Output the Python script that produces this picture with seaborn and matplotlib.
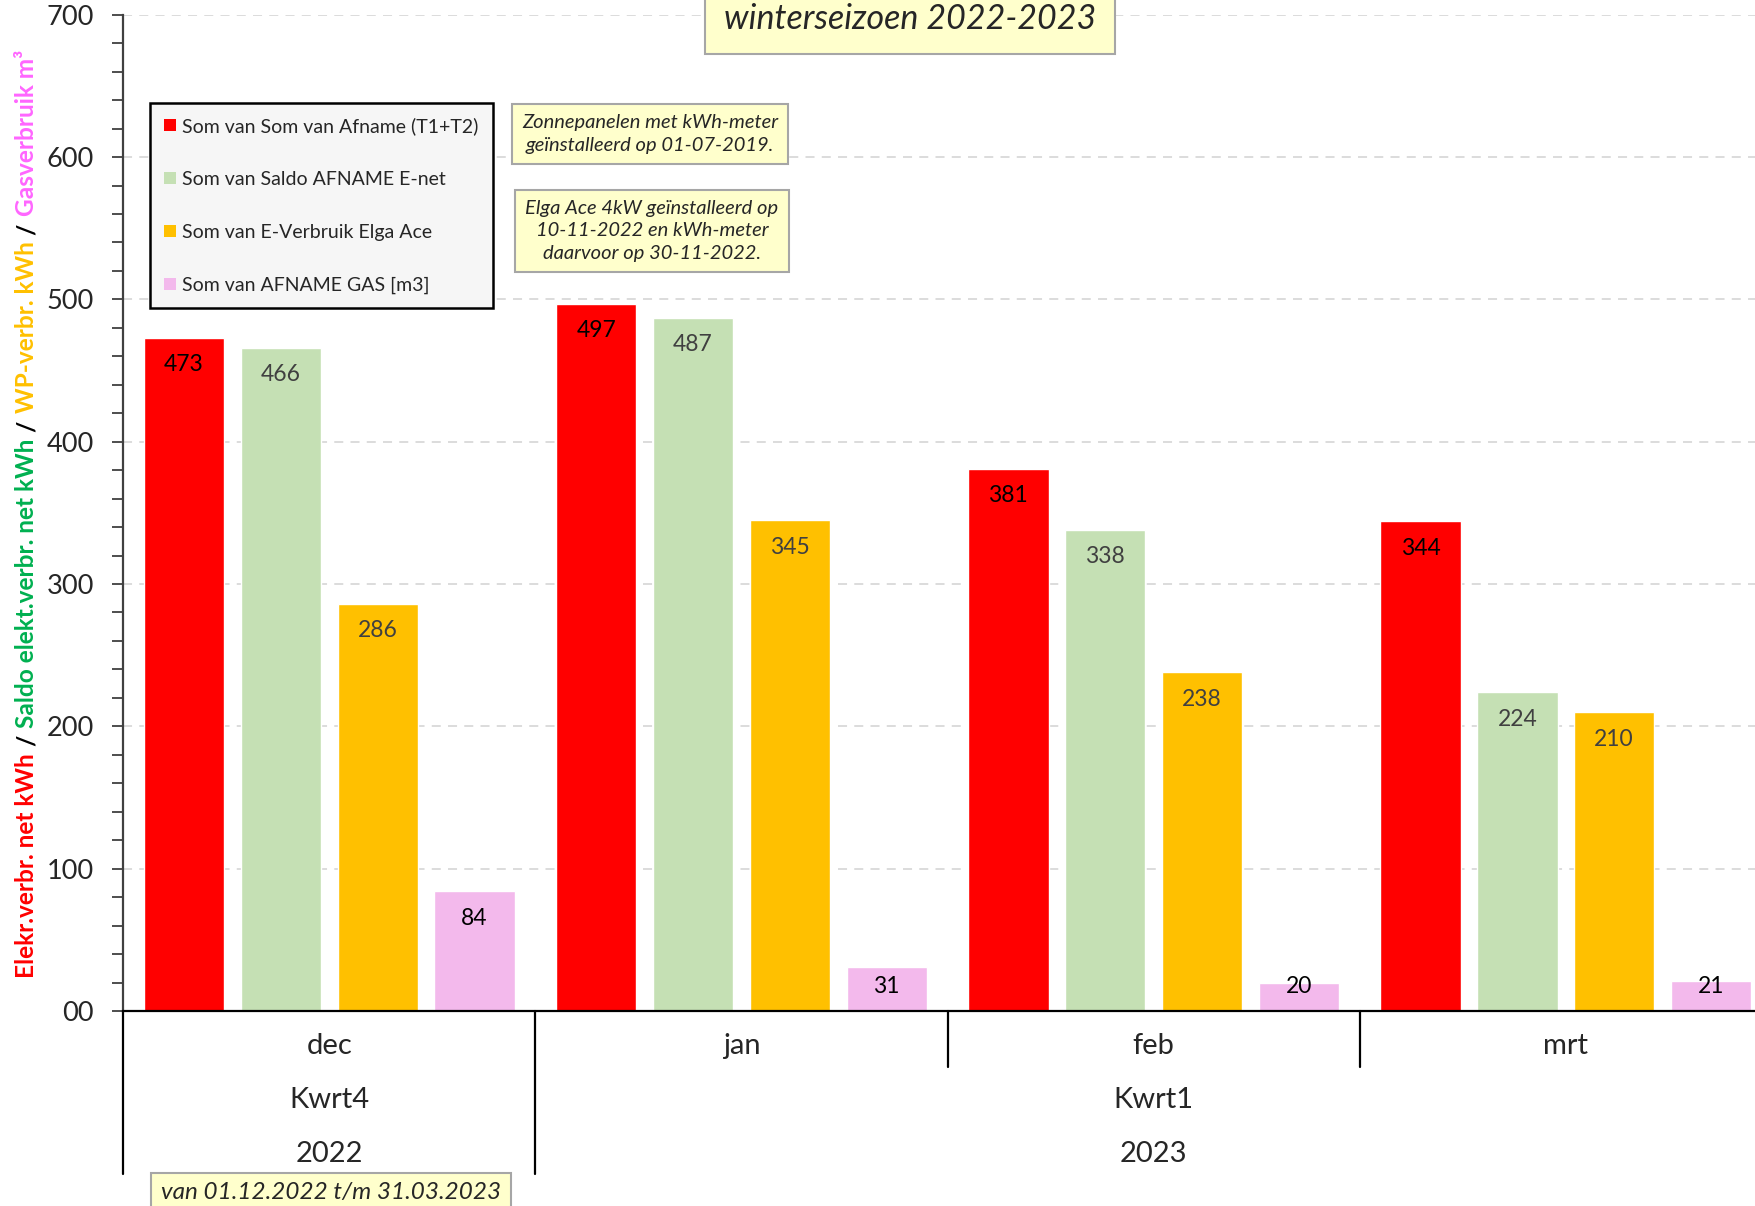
import numpy as np
import pandas as pd
import matplotlib
matplotlib.use("Agg")
import matplotlib.pyplot as plt
import matplotlib.transforms as mtrans
import seaborn as sns
from matplotlib.patches import Patch
from matplotlib.ticker import MultipleLocator, FuncFormatter

# data
months = ["dec", "jan", "feb", "mrt"]
quarters = ["Kwrt4", "Kwrt1"]
years = ["2022", "2023"]
series = ["Som van Som van Afname (T1+T2)", "Som van Saldo AFNAME E-net",
          "Som van E-Verbruik Elga Ace", "Som van AFNAME GAS [m3]"]
afname = [473, 497, 381, 344]
saldo = [466, 487, 338, 224]
elga = [286, 345, 238, 210]
gas = [84, 31, 20, 21]

colors = ["#ff0000", "#c5e0b4", "#ffc000", "#f3b9ec"]
label_colors = ["black", "#404040", "#404040", "black"]

df = pd.DataFrame({
    "maand": months * 4,
    "reeks": np.repeat(series, 4),
    "waarde": afname + saldo + elga + gas,
})

sns.set_style("white")
plt.rcParams["font.family"] = ["Lato", "DejaVu Sans"]

fig = plt.figure(figsize=(17.56, 12.06), dpi=100)
ax = fig.add_axes([0.0702, 0.1617, 0.9388, 0.8261])

sns.barplot(data=df, x="maand", y="waarde", hue="reeks", order=months,
            hue_order=series, palette=colors, width=0.94, gap=0.17,
            saturation=1, legend=False, ax=ax, zorder=2)

ax.set_xlim(-0.5, 3.5)
ax.set_ylim(0, 700)
ax.set_xlabel("")
ax.set_ylabel("")
ax.set_xticks([])
ax.yaxis.set_major_locator(MultipleLocator(100))
ax.yaxis.set_minor_locator(MultipleLocator(20))
ax.yaxis.set_major_formatter(FuncFormatter(lambda v, p: f"{int(v):02d}"))
ax.tick_params(axis="y", which="both", left=True, direction="out",
               length=8, width=1.3, color="#404040")
ax.tick_params(axis="y", which="major", labelsize=19.5, pad=13)
ax.yaxis.grid(True, linestyle=(0, (5, 4)), color="#d9d9d9", lw=1.3)
ax.set_axisbelow(True)
for s in ["top", "right"]:
    ax.spines[s].set_visible(False)
ax.spines["left"].set_color("#404040")
ax.spines["left"].set_linewidth(1.6)
ax.spines["bottom"].set_color("black")
ax.spines["bottom"].set_linewidth(1.6)

# value labels inside the top of the bars
for cont, lc in zip(ax.containers, label_colors):
    for bar in cont:
        h = bar.get_height()
        ax.text(bar.get_x() + bar.get_width() / 2, max(h - 19, 17), f"{h:.0f}",
                ha="center", va="center", fontsize=16.5, color=lc, zorder=3)

# multi-level category axis
tr = mtrans.blended_transform_factory(ax.transData, ax.transAxes)
for i, m in enumerate(months):
    ax.text(i, -0.035, m, transform=tr, ha="center", va="center", fontsize=21)
ax.text(0, -0.0894, quarters[0], transform=tr, ha="center", va="center", fontsize=21)
ax.text(2, -0.0894, quarters[1], transform=tr, ha="center", va="center", fontsize=21)
ax.text(0, -0.1436, years[0], transform=tr, ha="center", va="center", fontsize=21)
ax.text(2, -0.1436, years[1], transform=tr, ha="center", va="center", fontsize=21)
for x in [-0.5, 0.5]:
    ax.plot([x, x], [0, -0.1637], transform=tr, color="black", lw=1.6, clip_on=False)
for x in [1.5, 2.5]:
    ax.plot([x, x], [0, -0.0562], transform=tr, color="black", lw=1.6, clip_on=False)

# legend
handles = [Patch(facecolor=c, edgecolor="none") for c in colors]
leg = ax.legend(handles, series, loc="upper left",
                bbox_to_anchor=(150 / 1756, 1 - 103 / 1206),
                bbox_transform=fig.transFigure, borderaxespad=0,
                fontsize=14, handlelength=0.6, handleheight=0.6,
                handletextpad=0.35, labelspacing=1.85, borderpad=0.72,
                frameon=True, fancybox=False, framealpha=1)
leg.get_frame().set_facecolor("#f6f6f6")
leg.get_frame().set_edgecolor("black")
leg.get_frame().set_linewidth(1.8)

# coloured y-axis title
pieces = [("Elekr.verbr. net kWh", "#ff0000"), ("/", "black"),
          ("Saldo elekt.verbr. net kWh", "#00b050"), ("/", "black"),
          ("WP-verbr. kWh", "#ffc000"), ("/", "black"),
          ("Gasverbruik m³", "#ff66ff")]
prev = fig.text(27 / 1756, 1 - 978 / 1206, pieces[0][0], rotation=90,
                color=pieces[0][1], fontsize=17.6, fontweight="bold",
                ha="center", va="bottom")
for s, c in pieces[1:]:
    prev = ax.annotate(s, xy=(0, 1), xycoords=prev, xytext=(0, 5),
                       textcoords="offset points", rotation=90,
                       ha="left", va="bottom", color=c, fontsize=17.6,
                       fontweight="bold", annotation_clip=False)

# text boxes
box = dict(boxstyle="square,pad=0.5", fc="#ffffcc", ec="#a6a6a6", lw=1.5)
fig.text(910 / 1756, 1 - 19 / 1206, "winterseizoen 2022-2023", ha="center",
         va="center", fontsize=24.5, style="italic",
         bbox=dict(boxstyle="square,pad=0.55", fc="#ffffcc", ec="#a6a6a6", lw=1.5))
fig.text(650 / 1756, 1 - 134 / 1206,
         "Zonnepanelen met kWh-meter\ngeïnstalleerd op 01-07-2019.",
         ha="center", va="center", fontsize=14.5, style="italic",
         linespacing=1.4, bbox=box)
fig.text(652 / 1756, 1 - 231 / 1206,
         "Elga Ace 4kW geïnstalleerd op\n10-11-2022 en kWh-meter\ndaarvoor op 30-11-2022.",
         ha="center", va="center", fontsize=14.5, style="italic",
         linespacing=1.4, bbox=box)
fig.text(331 / 1756, 1 - 1193 / 1206, "van 01.12.2022 t/m 31.03.2023",
         ha="center", va="center", fontsize=17.5, style="italic",
         bbox=dict(boxstyle="square,pad=0.4", fc="#ffffcc", ec="#a6a6a6", lw=1.5))

fig.savefig("out.png", dpi=100)
